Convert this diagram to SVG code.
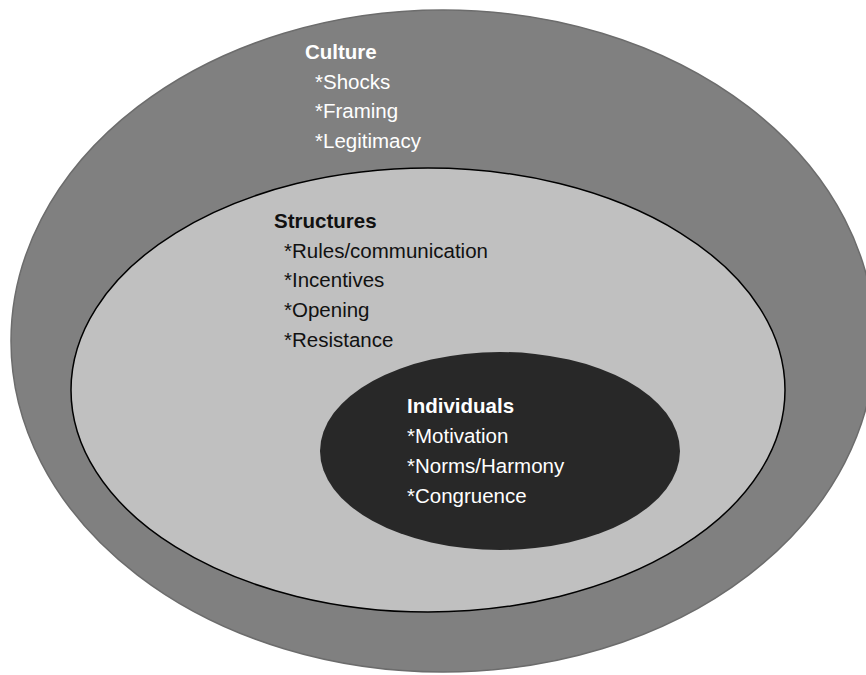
<svg xmlns="http://www.w3.org/2000/svg" width="866" height="675" viewBox="0 0 866 675">
<style>
  .t { font-family: "Liberation Sans", Arial, sans-serif; font-size: 20.5px; }
  .h { font-weight: bold; }
  .w { fill: #ffffff; }
  .k { fill: #111111; }
</style>
<rect width="866" height="675" fill="#ffffff"/>
<g id="culture">
  <ellipse cx="443" cy="341" rx="432" ry="331" fill="#808080" stroke="#6c6c6c" stroke-width="1.5"/>
  <text class="t h w" x="305" y="59">Culture</text>
  <text class="t w" x="315" y="89">*Shocks</text>
  <text class="t w" x="315" y="118">*Framing</text>
  <text class="t w" x="315" y="148">*Legitimacy</text>
</g>
<g id="structures">
  <ellipse cx="428" cy="390" rx="357" ry="222" fill="#c0c0c0" stroke="#000000" stroke-width="1.5"/>
  <text class="t h k" x="274" y="228">Structures</text>
  <text class="t k" x="284" y="258">*Rules/communication</text>
  <text class="t k" x="284" y="287">*Incentives</text>
  <text class="t k" x="284" y="317">*Opening</text>
  <text class="t k" x="284" y="347">*Resistance</text>
</g>
<g id="individuals">
  <ellipse cx="500" cy="451" rx="180" ry="99" fill="#282828"/>
  <text class="t h w" x="407" y="413">Individuals</text>
  <text class="t w" x="407" y="443">*Motivation</text>
  <text class="t w" x="407" y="473">*Norms/Harmony</text>
  <text class="t w" x="407" y="503">*Congruence</text>
</g>
<g id="connectors"></g>
</svg>
